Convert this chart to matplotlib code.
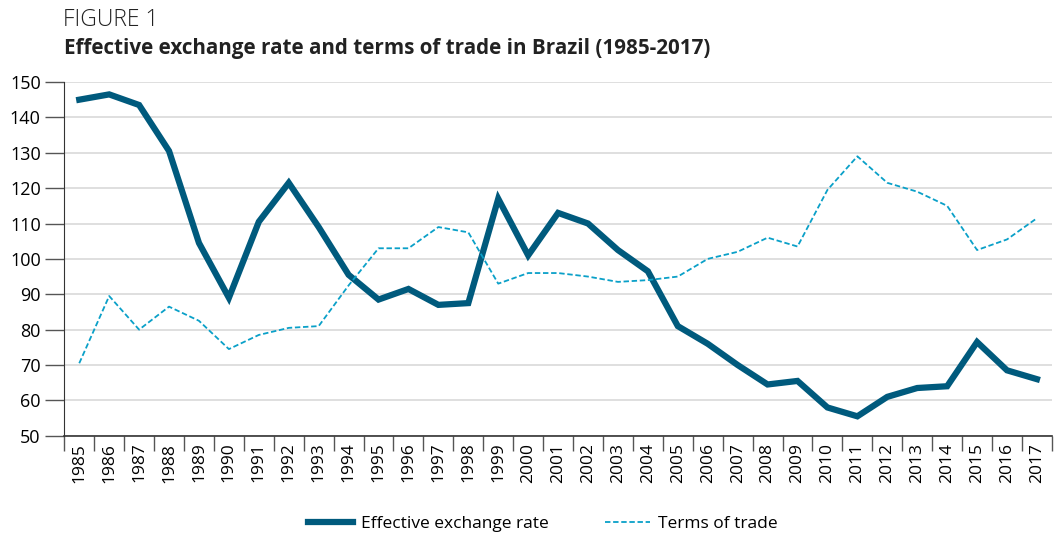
import matplotlib.pyplot as plt
import numpy as np

years = [str(y) for y in range(1985, 2018)]
exchange_rate = [145, 146.5, 143.5, 130.5, 104.5, 89, 110.5, 121.5, 109, 95.5,
                 88.5, 91.5, 87, 87.5, 117, 101, 113, 110, 102.5, 96.5,
                 81, 76, 70, 64.5, 65.5, 58, 55.5, 61, 63.5, 64, 76.5, 68.5, 66]
terms_of_trade = [70.5, 89.5, 80, 86.5, 82.5, 74.5, 78.5, 80.5, 81, 92.5,
                  103, 103, 109, 107.5, 93, 96, 96, 95, 93.5, 94,
                  95, 100, 102, 106, 103.5, 119.5, 129, 121.5, 119, 115, 102.5, 105.5, 111.5]
yticks = list(range(50, 151, 10))

plt.rcParams['font.family'] = ['Open Sans', 'DejaVu Sans']

fig = plt.figure(figsize=(10.54, 5.36), dpi=100)
ax = fig.add_axes([0.061, 0.187, 0.937, 0.660])

x = np.arange(len(years))
ax.plot(x, exchange_rate, color='#005a7d', linewidth=4.5, label='Effective exchange rate',
        solid_joinstyle='miter')
ax.plot(x, terms_of_trade, color='#0aa0c8', linewidth=1.3, linestyle=(0, (3, 1.5)),
        label='Terms of trade')

ax.set_xlim(-0.5, len(years) - 0.5)
ax.set_ylim(50, 150)
ax.set_yticks(yticks)
ax.tick_params(axis='y', length=14, width=1, color='#555555', labelsize=13, pad=3)
ax.grid(axis='y', color='#d9d9d9', linewidth=1.2)
ax.set_axisbelow(True)

# ticks between categories, labels centred
ax.set_xticks(np.arange(len(years) + 1) - 0.5)
ax.set_xticklabels([])
ax.set_xticks(x, minor=True)
ax.set_xticklabels(years, minor=True, rotation=90, fontsize=12.5)
ax.tick_params(axis='x', which='major', length=11, width=1, color='#555555')
ax.tick_params(axis='x', which='minor', length=0, pad=5)

for s in ['top', 'right']:
    ax.spines[s].set_visible(False)
ax.spines['left'].set_color('#333333')
ax.spines['bottom'].set_color('#333333')
ax.spines['bottom'].set_linewidth(1.2)

fig.text(0.060, 0.963, 'FIGURE 1', fontsize=16.5, fontweight='light', color='#222222',
         va='center')
fig.text(0.061, 0.910, 'Effective exchange rate and terms of trade in Brazil (1985-2017)',
         fontsize=14.9, fontweight='bold', color='#222222', va='center')

fig.legend(loc='center', bbox_to_anchor=(0.515, 0.022), ncol=2, frameon=False,
           fontsize=12.5, handlelength=2.6, handletextpad=0.5, columnspacing=3.2)

fig.savefig('out.png', dpi=100)
